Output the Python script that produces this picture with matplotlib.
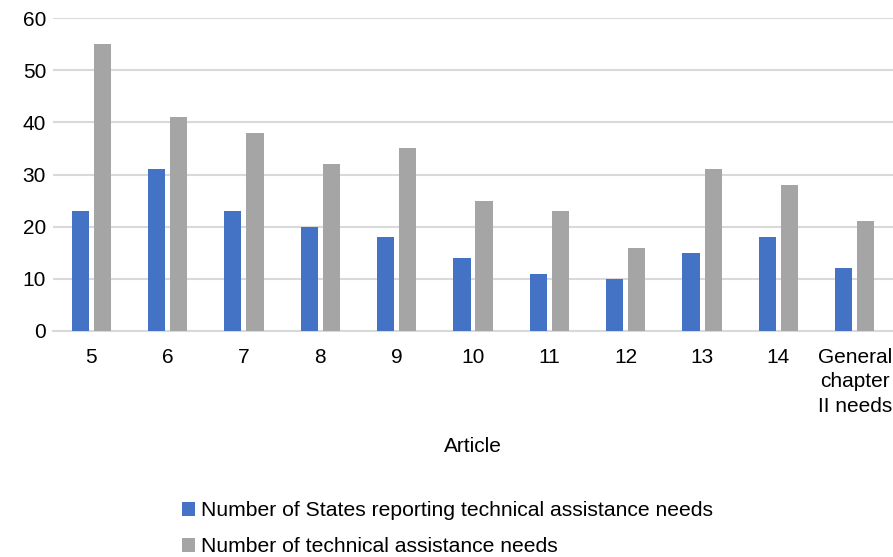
import matplotlib
matplotlib.use("Agg")
import matplotlib.pyplot as plt
import numpy as np

plt.rcParams['font.family'] = ['Liberation Sans', 'DejaVu Sans']

articles = ["5", "6", "7", "8", "9", "10", "11", "12", "13", "14",
            "General\nchapter\nII needs"]
states_reporting = [23, 31, 23, 20, 18, 14, 11, 10, 15, 18, 12]
assistance_needs = [55, 41, 38, 32, 35, 25, 23, 16, 31, 28, 21]

blue = "#4472c4"
gray = "#a5a5a5"
grid_col = "#d9d9d9"
fs = 15

fig = plt.figure(figsize=(8.93, 5.57), dpi=100)
ax = fig.add_axes([53 / 893, 1 - 331 / 557, 840 / 893, (331 - 18) / 557])

x = np.arange(len(articles))
w = 0.225
off = 0.145
ax.bar(x - off, states_reporting, width=w, color=blue,
       label="Number of States reporting technical assistance needs", zorder=3)
ax.bar(x + off, assistance_needs, width=w, color=gray,
       label="Number of technical assistance needs", zorder=3)

ax.set_xlim(-0.5, len(articles) - 0.5)
ax.set_ylim(0, 60)
ax.set_yticks(range(0, 61, 10))
ax.yaxis.grid(True, color=grid_col, linewidth=1.5, zorder=0)
ax.set_axisbelow(True)
for s in ["top", "right", "left"]:
    ax.spines[s].set_visible(False)
ax.spines["bottom"].set_color(grid_col)
ax.spines["bottom"].set_linewidth(1.5)
ax.tick_params(axis="both", length=0, labelsize=fs, colors="#000000")
ax.tick_params(axis="y", pad=5)
ax.tick_params(axis="x", pad=12)
ax.set_xticks(x)
ax.set_xticklabels(articles, linespacing=1.38)

ax.set_xlabel("Article", fontsize=fs, labelpad=15)

handles, labels = ax.get_legend_handles_labels()
fig.legend(handles, labels, loc="upper left",
           bbox_to_anchor=(174 / 893, 1 - 493 / 557),
           frameon=False, fontsize=15.2, handlelength=0.6, handleheight=0.6,
           handletextpad=0.3, labelspacing=0.8, borderaxespad=0)

fig.savefig("out.png", dpi=100)
